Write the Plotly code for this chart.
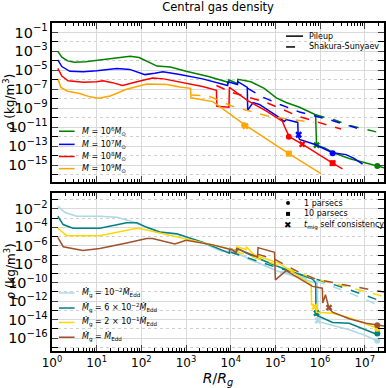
import numpy as np
import plotly.graph_objects as go

# ---- data (log10 R/Rg, log10 rho) ----
# top panel: black-hole mass series, Pileup (solid)
m6_x = [0.13, 0.22, 0.35, 0.5, 0.75, 1.0, 1.3, 1.55, 1.75, 1.95, 2.15, 2.35, 2.5, 2.65, 3.0, 3.5, 3.9, 3.95, 3.96, 4.15, 4.16, 4.45, 4.75, 5.02, 5.24, 5.54, 5.9, 5.92, 6.1, 6.3, 6.65, 6.95, 7.28, 7.43]
m6_y = [-3.0, -3.6, -4.0, -4.15, -4.1, -3.95, -3.75, -3.55, -3.5, -3.65, -4.1, -4.55, -4.6, -4.65, -5.1, -5.65, -6.2, -6.35, -6.0, -6.4, -5.95, -6.2, -6.9, -7.9, -8.4, -8.9, -9.7, -12.9, -13.2, -13.7, -14.3, -14.7, -15.1, -15.3]
m7_x = [0.13, 0.22, 0.4, 0.7, 1.0, 1.45, 1.74, 2.08, 2.3, 2.48, 2.86, 3.37, 3.93, 3.94, 4.15, 4.16, 4.37, 4.38, 4.5, 4.64, 5.09, 5.2, 5.24, 5.5, 5.51, 5.54, 5.87, 6.28, 6.58, 6.76, 6.95]
m7_y = [-3.9, -4.6, -5.1, -5.15, -5.05, -4.8, -4.9, -5.45, -5.3, -5.15, -5.45, -5.9, -6.6, -6.2, -6.5, -6.2, -6.8, -9.2, -8.4, -8.6, -10.0, -10.4, -10.2, -10.5, -11.9, -12.3, -12.8, -13.7, -13.9, -14.3, -14.9]
m8_x = [0.13, 0.22, 0.36, 0.7, 1.0, 1.14, 1.35, 1.58, 1.9, 2.25, 2.5, 2.86, 3.37, 3.68, 3.69, 3.96, 3.97, 4.38, 4.8, 5.16, 5.2, 5.31, 5.6, 6.28, 6.5]
m8_y = [-4.8, -5.6, -6.1, -6.25, -6.2, -6.1, -6.3, -6.6, -6.2, -5.8, -5.9, -6.2, -6.7, -7.1, -8.8, -8.9, -6.8, -8.2, -9.3, -10.4, -10.9, -12.0, -12.8, -14.8, -15.4]
m9_x = [0.13, 0.2, 0.35, 0.62, 0.85, 1.05, 1.3, 1.67, 2.12, 2.57, 2.86, 3.1, 3.11, 3.6, 4.3, 5.3, 6.02]
m9_y = [-5.9, -6.8, -7.2, -7.45, -7.8, -7.95, -7.7, -7.0, -6.45, -6.5, -6.75, -6.9, -7.9, -8.3, -10.7, -13.8, -15.9]

# top panel: Shakura-Sunyaev (dashed)
m6_ss_x = [5.9, 6.3, 6.65, 7.0, 7.43]
m6_ss_y = [-9.7, -10.2, -10.8, -11.2, -11.7]
m7_ss_x = [4.38, 4.7, 5.1, 5.54, 6.27, 6.95]
m7_ss_y = [-6.9, -7.8, -8.6, -9.4, -10.3, -11.3]
m8_ss_x = [3.68, 4.0, 4.8, 5.54, 6.47]
m8_ss_y = [-6.6, -7.3, -8.4, -9.9, -11.2]
m9_ss_x = [3.12, 3.5, 4.04, 4.8, 5.54, 5.87]
m9_ss_y = [-7.6, -7.7, -8.8, -9.8, -10.3, -10.5]

# top panel markers: 1 pc (circle), 10 pc (square), t_mig (x)
m_pc1_x = [7.28, 6.28, 5.3, 4.3]
m_pc1_y = [-15.1, -13.75, -12.0, -10.8]
m_pc10_x = [None, None, 6.28, 5.3]
m_pc10_y = [None, None, -14.8, -13.8]
m_mig_x = [5.92, 5.52, 5.6, 4.33]
m_mig_y = [-12.9, -11.8, -12.8, -10.9]

# bottom panel: accretion-rate series, Pileup (solid)
a1_x = [0.13, 0.29, 0.55, 1.07, 1.45, 1.81, 2.12, 2.41, 2.86, 3.37, 3.8, 4.04, 4.5, 5.02, 5.5, 5.94, 5.95, 6.28, 6.65, 7.0, 7.32]
a1_y = [-1.7, -2.4, -2.8, -2.8, -2.9, -3.4, -4.0, -4.5, -4.8, -5.7, -6.6, -6.6, -7.6, -8.7, -9.4, -10.1, -14.2, -14.6, -15.1, -15.7, -16.4]
a2_x = [0.13, 0.25, 0.47, 1.07, 1.67, 1.9, 2.12, 2.41, 2.79, 3.37, 3.97, 3.98, 4.15, 4.16, 4.35, 4.58, 5.09, 5.83, 5.9, 5.91, 6.28, 6.65, 7.32]
a2_y = [-2.8, -3.7, -4.1, -4.1, -3.5, -3.5, -4.0, -4.5, -4.7, -5.6, -6.8, -6.3, -6.6, -6.3, -6.8, -7.3, -8.3, -9.6, -10.0, -13.5, -14.3, -14.4, -15.7]
a3_x = [0.13, 0.33, 1.07, 1.58, 1.9, 2.12, 2.48, 2.86, 3.37, 4.13, 4.14, 4.34, 4.35, 4.53, 5.09, 5.8, 5.81, 5.9, 5.92, 6.28, 6.65, 7.32]
a3_y = [-4.1, -4.9, -4.9, -4.4, -4.1, -4.3, -4.7, -5.1, -5.7, -6.5, -6.1, -6.4, -6.1, -7.0, -7.9, -10.2, -12.4, -12.6, -13.2, -13.3, -13.8, -15.0]
a4_x = [0.13, 0.25, 0.69, 1.07, 1.67, 2.12, 2.25, 2.57, 2.75, 3.0, 3.6, 4.04, 4.12, 4.13, 4.35, 4.6, 4.61, 4.98, 5.0, 5.24, 5.83, 6.05, 6.06, 6.12, 6.2, 6.28, 6.65, 7.03, 7.43]
a4_y = [-5.1, -6.1, -6.5, -6.3, -5.7, -5.2, -5.2, -5.6, -5.8, -5.4, -5.9, -6.45, -6.8, -6.3, -6.7, -7.2, -6.2, -6.7, -9.7, -8.7, -10.4, -10.6, -12.2, -11.3, -12.8, -13.2, -13.9, -14.4, -14.7]

# bottom panel: Shakura-Sunyaev (dashed)
a1_ss_x = [4.0, 5.0, 5.9, 6.5, 7.0, 7.43]
a1_ss_y = [-6.7, -8.6, -9.8, -10.8, -11.8, -12.7]
a2_ss_x = [4.0, 5.0, 5.9, 6.5, 7.43]
a2_ss_y = [-6.7, -8.3, -9.6, -10.5, -12.1]
a3_ss_x = [4.1, 5.0, 5.9, 6.5, 7.43]
a3_ss_y = [-6.6, -8.0, -9.6, -10.3, -11.5]
a4_ss_x = [4.6, 5.0, 5.5, 5.9, 6.5, 7.43]
a4_ss_y = [-6.9, -7.5, -8.8, -9.6, -10.2, -11.0]

# bottom panel markers
a_pc1_x = [7.28, 7.28, 7.28, 7.28]
a_pc1_y = [-16.3, -15.5, -15.0, -14.6]
a_mig_x = [5.95, 5.92, 5.88, 6.2]
a_mig_y = [-14.1, -13.3, -12.6, -12.7]

x_tick_exp = [0, 1, 2, 3, 4, 5, 6, 7]

mass_labels = ["<i>M</i> = 10<sup>6</sup><i>M</i><sub>⊙</sub>",
               "<i>M</i> = 10<sup>7</sup><i>M</i><sub>⊙</sub>",
               "<i>M</i> = 10<sup>8</sup><i>M</i><sub>⊙</sub>",
               "<i>M</i> = 10<sup>9</sup><i>M</i><sub>⊙</sub>"]
mdot = "<i>M\u0307</i>"
rate_labels = [mdot + "<sub>g</sub> = 10<sup>−2</sup>" + mdot + "<sub>Edd</sub>",
               mdot + "<sub>g</sub> = 6 × 10<sup>−2</sup>" + mdot + "<sub>Edd</sub>",
               mdot + "<sub>g</sub> = 2 × 10<sup>−1</sup>" + mdot + "<sub>Edd</sub>",
               mdot + "<sub>g</sub> = " + mdot + "<sub>Edd</sub>"]
style_labels = ["Pileup", "Shakura-Sunyaev"]
marker_labels = ["1 parsecs", "10 parsecs", "<i>t</i><sub>mig</sub> self consistency"]
y_title = "<i>ρ</i> (kg/m<sup>3</sup>)"

mass_colors = ["green", "blue", "red", "orange"]
rate_colors = ["#add8e6", "teal", "gold", "sienna"]

top_solid = [(m6_x, m6_y), (m7_x, m7_y), (m8_x, m8_y), (m9_x, m9_y)]
top_dash = [(m6_ss_x, m6_ss_y), (m7_ss_x, m7_ss_y), (m8_ss_x, m8_ss_y), (m9_ss_x, m9_ss_y)]
bot_solid = [(a1_x, a1_y), (a2_x, a2_y), (a3_x, a3_y), (a4_x, a4_y)]
bot_dash = [(a1_ss_x, a1_ss_y), (a2_ss_x, a2_ss_y), (a3_ss_x, a3_ss_y), (a4_ss_x, a4_ss_y)]


def p10(v):
    return [None if a is None else 10 ** a for a in v]


fig = go.Figure()
FONT = "DejaVu Sans"
LW = 1.5

for i in range(4):
    c = mass_colors[i]
    fig.add_trace(go.Scatter(x=p10(top_dash[i][0]), y=p10(top_dash[i][1]), mode="lines",
                             line=dict(color=c, width=LW, dash="dash"), xaxis="x", yaxis="y"))
    fig.add_trace(go.Scatter(x=p10(top_solid[i][0]), y=p10(top_solid[i][1]), mode="lines",
                             line=dict(color=c, width=LW), name=mass_labels[i], xaxis="x", yaxis="y"))
    for mx, my, sym in [(m_pc1_x, m_pc1_y, "circle"), (m_pc10_x, m_pc10_y, "square"), (m_mig_x, m_mig_y, "x")]:
        if mx[i] is None:
            continue
        fig.add_trace(go.Scatter(x=p10([mx[i]]), y=p10([my[i]]), mode="markers",
                                 marker=dict(color=c, symbol=sym, size=6), xaxis="x", yaxis="y"))

for i in range(4):
    c = rate_colors[i]
    fig.add_trace(go.Scatter(x=p10(bot_dash[i][0]), y=p10(bot_dash[i][1]), mode="lines",
                             line=dict(color=c, width=LW, dash="dash"), xaxis="x2", yaxis="y2"))
    fig.add_trace(go.Scatter(x=p10(bot_solid[i][0]), y=p10(bot_solid[i][1]), mode="lines",
                             line=dict(color=c, width=LW), name=rate_labels[i], xaxis="x2", yaxis="y2"))
    for mx, my, sym in [(a_pc1_x, a_pc1_y, "circle"), (a_mig_x, a_mig_y, "x")]:
        fig.add_trace(go.Scatter(x=p10([mx[i]]), y=p10([my[i]]), mode="markers",
                                 marker=dict(color=c, symbol=sym, size=6), xaxis="x2", yaxis="y2"))

# ---- legends drawn as shapes + annotations (matplotlib-like compact legends) ----
shapes, annots = [], []
leg_font = dict(family=FONT, size=8, color="black")


def leg_line(x0, x1, y, color, dash="solid"):
    shapes.append(dict(type="line", xref="paper", yref="paper", x0=x0, x1=x1, y0=y, y1=y,
                       line=dict(color=color, width=LW, dash=dash)))


def leg_text(x, y, txt):
    annots.append(dict(xref="paper", yref="paper", x=x, y=y, text=txt, showarrow=False,
                       xanchor="left", yanchor="middle", font=leg_font))


# top right: line styles
for txt, dash, y in zip(style_labels, ["solid", "dash"], [0.960, 0.927]):
    leg_line(0.705, 0.756, y, "black", dash)
    leg_text(0.768, y, txt)
# top left: masses
for txt, c, y in zip(mass_labels, mass_colors, [0.670, 0.630, 0.593, 0.556]):
    leg_line(0.021, 0.068, y, c)
    leg_text(0.085, y, txt)
# bottom left: accretion rates
for txt, c, y in zip(rate_labels, rate_colors, [0.177, 0.131, 0.087, 0.042]):
    leg_line(0.021, 0.068, y, c)
    leg_text(0.085, y, txt)
# bottom right: markers
for j, (txt, y) in enumerate(zip(marker_labels, [0.451, 0.418, 0.384])):
    if j < 2:
        shapes.append(dict(type="circle" if j == 0 else "rect", xref="paper", yref="paper",
                           xsizemode="pixel", ysizemode="pixel", xanchor=0.711, yanchor=y,
                           x0=-2, x1=2, y0=-2, y1=2, fillcolor="black", line=dict(width=0)))
    else:
        annots.append(dict(xref="paper", yref="paper", x=0.711, y=y, text="✖", showarrow=False,
                           xanchor="center", yanchor="middle",
                           font=dict(family=FONT, size=9, color="black")))
    leg_text(0.752, y, txt)

# y axis titles, one per panel
for yc in [0.758, 0.241]:
    annots.append(dict(xref="paper", yref="paper", x=-0.127, y=yc, text=y_title, showarrow=False,
                       textangle=-90, xanchor="center", yanchor="middle",
                       font=dict(family=FONT, size=12, color="black")))

xcommon = dict(type="log", range=[0, 7.43], ticks="inside", ticklen=6, tickwidth=1,
               tickvals=[10 ** e for e in x_tick_exp],
               ticktext=["10<sup>%d</sup>" % e for e in x_tick_exp],
               showline=True, linewidth=2, linecolor="black", mirror="allticks",
               showgrid=True, gridcolor="#d9d9d9", gridwidth=1, zeroline=False, automargin=False,
               minor=dict(ticks="inside", ticklen=3, dtick="D1", showgrid=False, tickcolor="black"),
               tickfont=dict(family=FONT, size=12, color="black"))
ycommon = dict(type="log", dtick=2, ticks="inside", ticklen=6, tickwidth=1,
               showline=True, linewidth=2, linecolor="black", mirror="allticks",
               showgrid=True, gridcolor="#d9d9d9", gridwidth=1, zeroline=False, automargin=False,
               minor=dict(ticks="inside", ticklen=6, dtick=1, showgrid=True, gridcolor="#cfcfcf",
                          griddash="dot", tickcolor="black"),
               tickfont=dict(family=FONT, size=11.5, color="black"), exponentformat="power")

fig.update_layout(
    width=386, height=388,
    margin=dict(l=52, r=2, t=23, b=37),
    plot_bgcolor="white", paper_bgcolor="white",
    showlegend=False,
    title=dict(text="Central gas density", x=0.565, xanchor="center", y=0.982, yanchor="middle",
               font=dict(family=FONT, size=11.5, color="black")),
    xaxis=dict(xcommon, domain=[0, 1], anchor="y", showticklabels=False, matches="x2"),
    yaxis=dict(ycommon, domain=[0.515, 1], anchor="x", range=[-16.8, 0], tick0=-1),
    xaxis2=dict(xcommon, domain=[0, 1], anchor="y2",
                title=dict(text="<i>R</i>/<i>R<sub>g</sub></i>", font=dict(family=FONT, size=14, color="black"), standoff=0)),
    yaxis2=dict(ycommon, domain=[0, 0.482], anchor="x2", range=[-17.4, -0.27], tick0=0),
    shapes=shapes, annotations=annots,
)

fig.write_html("out.html", config={"displayModeBar": False},
               post_script="document.body.style.margin='0';")
